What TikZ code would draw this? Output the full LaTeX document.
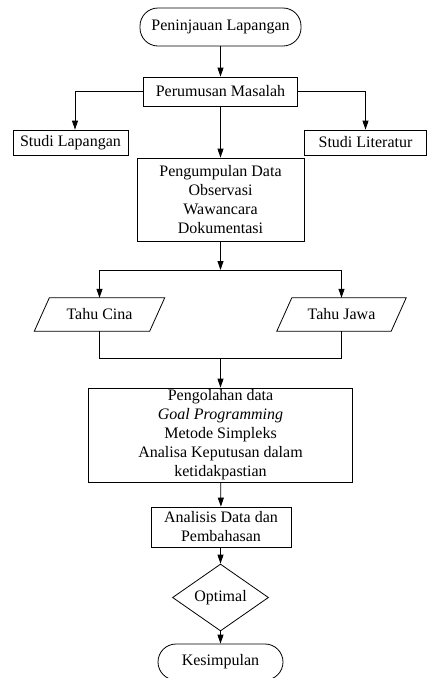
\documentclass[tikz,border=0pt]{standalone}
\usepackage{fontspec}
\setmainfont{Liberation Serif}
\usetikzlibrary{arrows.meta,shapes.geometric,calc}
\begin{document}
\begin{tikzpicture}[x=1pt,y=-1pt,
  every node/.style={font=\fontsize{16}{19}\selectfont, inner sep=0pt, align=center},
  line/.style={line width=0.8pt, draw=black},
  arr/.style={line width=0.8pt, -{Triangle[length=9pt,width=6pt]}},
  boxed/.style={draw, line width=0.8pt, rectangle},
  term/.style={draw, line width=0.8pt, rectangle, rounded corners=18pt}]
\useasboundingbox (0,0) rectangle (427,678);
\fill[white] (0,0) rectangle (427,678);
% nodes
\node[term, minimum width=161pt, minimum height=38pt] (pen) at (220.5,27) {Peninjauan Lapangan};
\node[boxed, minimum width=154pt, minimum height=29pt] (rum) at (220.5,91.5) {Perumusan Masalah};
\node[boxed, minimum width=115pt, minimum height=25pt] (sl) at (70.5,142.5) {Studi Lapangan};
\node[boxed, minimum width=122pt, minimum height=25pt] (slit) at (365.5,142.5) {Studi Literatur};
\node[boxed, minimum width=167pt, minimum height=83pt] (pd) at (220.5,199.5) {Pengumpulan Data\\Observasi\\Wawancara\\Dokumentasi};
\node[minimum width=115pt, minimum height=33pt] (tc) at (99.5,314.5) {Tahu Cina};
\node[minimum width=114pt, minimum height=33pt] (tj) at (341.5,314.5) {Tahu Jawa};
\draw[line] ($(tc.south west)+(-7.5,0)$) -- ($(tc.north west)+(7.5,0)$) -- ($(tc.north east)+(7.5,0)$) -- ($(tc.south east)+(-7.5,0)$) -- cycle;
\draw[line] ($(tj.south west)+(-7.5,0)$) -- ($(tj.north west)+(7.5,0)$) -- ($(tj.north east)+(7.5,0)$) -- ($(tj.south east)+(-7.5,0)$) -- cycle;
\node[boxed, minimum width=264pt, minimum height=94pt] (po) at (220.5,435) {Pengolahan data\\\textit{Goal Programming}\\Metode Simpleks\\Analisa Keputusan dalam\\ketidakpastian};
\node[boxed, minimum width=140pt, minimum height=40pt] (an) at (221,527) {Analisis Data dan\\Pembahasan};
\node[draw, line width=0.8pt, diamond, minimum width=96pt, minimum height=57pt, inner sep=0pt] (opt) at (220.5,597.5) {Optimal};
\node[term, minimum width=125pt, minimum height=36pt] (kes) at (220.5,662) {Kesimpulan};
% junctions
\coordinate (j1) at (220.5,270);
\coordinate (j2) at (220.5,358);
% connectors
\draw[arr] (pen) -- (rum);
\draw[arr] (rum.west) -| ([xshift=4.5pt]sl.north);
\draw[arr] (rum.east) -| (slit.north);
\draw[arr] (rum) -- (pd);
\draw[arr] (pd) -- (j1);
\draw[arr] (j1) -| (tc.north);
\draw[arr] (j1) -| (tj.north);
\draw[line] (tc.south) |- (j2);
\draw[line] (tj.south) |- (j2);
\draw[arr] (j2) -- (po);
\draw[arr] (po) -- (an);
\draw[arr] (an.south -| opt.north) -- (opt);
\draw[arr] (opt) -- (kes);
\end{tikzpicture}
\end{document}
